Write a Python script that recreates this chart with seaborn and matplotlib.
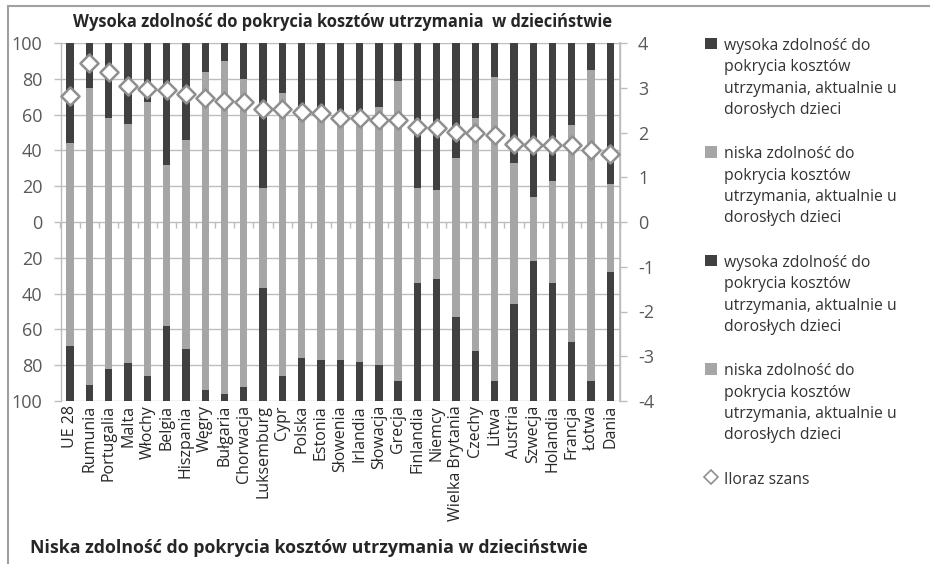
import numpy as np
import pandas as pd
import matplotlib
matplotlib.use("Agg")
import matplotlib.pyplot as plt
from matplotlib.patches import Patch
from matplotlib.lines import Line2D
import seaborn as sns

# ---------------- data ----------------
countries = ["UE 28", "Rumunia", "Portugalia", "Malta", "Włochy", "Belgia", "Hiszpania",
             "Węgry", "Bułgaria", "Chorwacja", "Luksemburg", "Cypr", "Polska", "Estonia",
             "Słowenia", "Irlandia", "Słowacja", "Grecja", "Finlandia", "Niemcy",
             "Wielka Brytania", "Czechy", "Litwa", "Austria", "Szwecja", "Holandia",
             "Francja", "Łotwa", "Dania"]

# upper half: high ability in childhood (gray = low now, dark = high now)
upper_low = [44, 75, 58, 55, 67, 32, 46, 84, 90, 80, 19, 72, 57, 60, 61, 60, 64, 79,
             19, 18, 36, 58, 81, 33, 14, 23, 54, 85, 21]
upper_high = [56, 25, 42, 45, 33, 68, 54, 16, 10, 20, 81, 28, 43, 40, 39, 40, 36, 21,
              81, 82, 64, 42, 19, 67, 86, 77, 46, 15, 79]

# lower half: low ability in childhood (gray = low now, dark = high now)
lower_low = [69, 91, 82, 79, 86, 58, 71, 94, 96, 92, 37, 86, 76, 77, 77, 78, 80, 89,
             34, 32, 53, 72, 89, 46, 22, 34, 67, 89, 28]
lower_high = [31, 9, 18, 21, 14, 42, 29, 6, 4, 8, 63, 14, 24, 23, 23, 22, 20, 11,
              66, 68, 47, 28, 11, 54, 78, 66, 33, 11, 72]

odds_ratio = [2.82, 3.55, 3.36, 3.03, 2.97, 2.94, 2.86, 2.76, 2.71, 2.69, 2.53, 2.52,
              2.45, 2.43, 2.33, 2.32, 2.28, 2.27, 2.12, 2.09, 2.02, 1.98, 1.94, 1.74,
              1.72, 1.72, 1.72, 1.61, 1.52]

legend_labels = [
    "wysoka zdolność do\npokrycia kosztów\nutrzymania, aktualnie u\ndorosłych dzieci",
    "niska zdolność do\npokrycia kosztów\nutrzymania, aktualnie u\ndorosłych dzieci",
    "wysoka zdolność do\npokrycia kosztów\nutrzymania, aktualnie u\ndorosłych dzieci",
    "niska zdolność do\npokrycia kosztów\nutrzymania, aktualnie u\ndorosłych dzieci",
    "Iloraz szans",
]
title_top = "Wysoka zdolność do pokrycia kosztów utrzymania  w dzieciństwie"
title_bottom = "Niska zdolność do pokrycia kosztów utrzymania w dzieciństwie"
left_ticks = [-100, -80, -60, -40, -20, 0, 20, 40, 60, 80, 100]
right_ticks = [-4, -3, -2, -1, 0, 1, 2, 3, 4]

# ---------------- style ----------------
sns.set_theme(style="white")
plt.rcParams["font.family"] = ["Open Sans", "DejaVu Sans"]

DARK = "#404040"
GRAY = "#a6a6a6"
GRID = "#bdbdbd"
TICK = "#595959"
TXT = "#262626"

W, H = 930, 564
fig = plt.figure(figsize=(W / 100, H / 100), dpi=100)
ax = fig.add_axes([60.5 / W, 1 - 401 / H, (620 - 60.5) / W, (401 - 43) / H])

df = pd.DataFrame({
    "country": countries,
    "up_total": np.array(upper_low) + np.array(upper_high),
    "up_low": upper_low,
    "down_total": -(np.array(lower_low) + np.array(lower_high)),
    "down_low": -np.array(lower_low),
})

bw = 0.38
for col, c in [("up_total", DARK), ("up_low", GRAY), ("down_total", DARK), ("down_low", GRAY)]:
    sns.barplot(data=df, x="country", y=col, color=c, saturation=1, width=bw,
                ax=ax, zorder=3, linewidth=0)

ax.set_ylim(-100, 100)
ax.set_xlim(-0.5, len(countries) - 0.5)
ax.set_yticks(left_ticks)
ax.set_yticklabels([str(abs(t)) for t in left_ticks])
ax.set_xlabel("")
ax.set_ylabel("")
ax.grid(axis="y", color=GRID, linewidth=1.0, zorder=0)
ax.grid(axis="x", visible=False)
ax.set_axisbelow(True)
for s in ["top", "bottom"]:
    ax.spines[s].set_visible(False)
for s in ["left", "right"]:
    ax.spines[s].set_color(GRID)
    ax.spines[s].set_linewidth(1.0)
ax.tick_params(axis="y", colors=TICK, labelsize=13, length=5, width=1, color=GRID, pad=8)
ax.tick_params(axis="x", labelsize=11.5, labelcolor=TXT, length=0, pad=3)
for lab in ax.get_xticklabels():
    lab.set_rotation(90)
    lab.set_va("top")
    lab.set_ha("center")

# category axis at zero with small tick marks between categories
sec = ax.secondary_xaxis(0.5)
sec.set_xticks(np.arange(len(countries) + 1) - 0.5)
sec.set_xticklabels([])
sec.tick_params(axis="x", direction="in", length=4, width=1, color=GRID)
for s in sec.spines.values():
    s.set_visible(False)

# odds ratio on secondary axis
ax2 = ax.twinx()
sns.scatterplot(x=np.arange(len(countries)), y=odds_ratio, ax=ax2, marker="D", s=85,
                color="white", edgecolor="#8f8f8f", linewidth=1.8, zorder=6, legend=False)
ax2.set_ylim(-4, 4)
ax2.set_yticks(right_ticks)
ax2.set_yticklabels([str(t) for t in right_ticks])
ax2.tick_params(axis="y", colors=TICK, labelsize=13, length=5, width=1, color=GRID, pad=8)
ax2.grid(False)
for s in ["top", "bottom", "left"]:
    ax2.spines[s].set_visible(False)
ax2.spines["right"].set_color(GRID)
ax2.set_ylabel("")

# titles
fig.text(343 / W, 1 - 22 / H, title_top, ha="center", va="center", fontsize=11.9,
         fontweight="bold", color=TXT)
fig.text(30 / W, 1 - 548 / H, title_bottom, ha="left", va="center", fontsize=12.8,
         fontweight="bold", color=TXT)

# legend
handles = [
    Patch(facecolor=DARK, edgecolor="none"),
    Patch(facecolor=GRAY, edgecolor="none"),
    Patch(facecolor=DARK, edgecolor="none"),
    Patch(facecolor=GRAY, edgecolor="none"),
    Line2D([], [], marker="D", linestyle="none", markerfacecolor="white",
           markeredgecolor="#8f8f8f", markeredgewidth=1.2, markersize=7),
]
leg = fig.legend(handles, legend_labels, loc="upper left",
                 bbox_to_anchor=(697 / W, 1 - 30 / H), frameon=False,
                 fontsize=11.3, handlelength=0.75, handleheight=0.75,
                 handletextpad=0.45, labelspacing=1.8, borderpad=0,
                 labelcolor="#333333")
for t in leg.get_texts():
    t.set_linespacing(1.45)
try:
    for colbox in leg._legend_handle_box.get_children():
        for row in colbox.get_children():
            row.align = "top"
except Exception:
    pass

# outer frame lines
fig.add_artist(Line2D([8 / W, 1], [1 - 6 / H, 1 - 6 / H], color="#a0a0a0", linewidth=1.5,
                      transform=fig.transFigure))
fig.add_artist(Line2D([8 / W, 8 / W], [0, 1 - 6 / H], color="#a0a0a0", linewidth=1.5,
                      transform=fig.transFigure))

fig.savefig("out.png", dpi=100)
